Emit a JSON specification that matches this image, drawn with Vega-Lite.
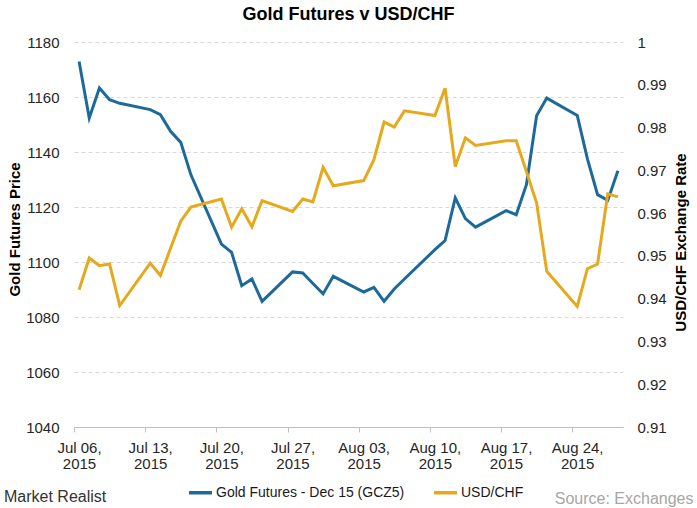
{
  "$schema": "https://vega.github.io/schema/vega-lite/v6.json",
  "width": 549,
  "height": 385,
  "autosize": {"type": "none"},
  "padding": {"left": 74, "top": 42, "right": 74, "bottom": 81},
  "background": "white",
  "config": {"font": "Liberation Sans", "view": {"stroke": null}},
  "title": {"text": "Gold Futures v USD/CHF", "font": "Liberation Sans", "fontSize": 18, "fontWeight": "bold", "color": "#000000", "anchor": "middle", "frame": "group", "offset": 11},
  "data": {"values": [
    {"date": "2015-07-06T12:00:00", "gold": 1172.9, "chf": 0.9421},
    {"date": "2015-07-07T12:00:00", "gold": 1152.4, "chf": 0.9495},
    {"date": "2015-07-08T12:00:00", "gold": 1163.3, "chf": 0.9477},
    {"date": "2015-07-09T12:00:00", "gold": 1159.0, "chf": 0.9481},
    {"date": "2015-07-10T12:00:00", "gold": 1157.7, "chf": 0.9384},
    {"date": "2015-07-13T12:00:00", "gold": 1155.4, "chf": 0.9483},
    {"date": "2015-07-14T12:00:00", "gold": 1153.6, "chf": 0.9454},
    {"date": "2015-07-15T12:00:00", "gold": 1147.5, "chf": 0.9518},
    {"date": "2015-07-16T12:00:00", "gold": 1143.5, "chf": 0.9581},
    {"date": "2015-07-17T12:00:00", "gold": 1131.7, "chf": 0.9614},
    {"date": "2015-07-20T12:00:00", "gold": 1106.5, "chf": 0.9633},
    {"date": "2015-07-21T12:00:00", "gold": 1103.5, "chf": 0.9567},
    {"date": "2015-07-22T12:00:00", "gold": 1091.4, "chf": 0.9610},
    {"date": "2015-07-23T12:00:00", "gold": 1093.8, "chf": 0.9568},
    {"date": "2015-07-24T12:00:00", "gold": 1085.7, "chf": 0.9629},
    {"date": "2015-07-27T12:00:00", "gold": 1096.4, "chf": 0.9604},
    {"date": "2015-07-28T12:00:00", "gold": 1096.0, "chf": 0.9633},
    {"date": "2015-07-29T12:00:00", "gold": 1092.2, "chf": 0.9626},
    {"date": "2015-07-30T12:00:00", "gold": 1088.4, "chf": 0.9707},
    {"date": "2015-07-31T12:00:00", "gold": 1094.8, "chf": 0.9664},
    {"date": "2015-08-03T12:00:00", "gold": 1089.1, "chf": 0.9676},
    {"date": "2015-08-04T12:00:00", "gold": 1090.8, "chf": 0.9725},
    {"date": "2015-08-05T12:00:00", "gold": 1085.7, "chf": 0.9813},
    {"date": "2015-08-06T12:00:00", "gold": 1090.2, "chf": 0.9801},
    {"date": "2015-08-07T12:00:00", "gold": 1093.8, "chf": 0.9839},
    {"date": "2015-08-10T12:00:00", "gold": 1104.5, "chf": 0.9828},
    {"date": "2015-08-11T12:00:00", "gold": 1107.8, "chf": 0.9892},
    {"date": "2015-08-12T12:00:00", "gold": 1123.3, "chf": 0.9709},
    {"date": "2015-08-13T12:00:00", "gold": 1115.8, "chf": 0.9776},
    {"date": "2015-08-14T12:00:00", "gold": 1112.7, "chf": 0.9758},
    {"date": "2015-08-17T12:00:00", "gold": 1118.7, "chf": 0.9769},
    {"date": "2015-08-18T12:00:00", "gold": 1117.2, "chf": 0.9769},
    {"date": "2015-08-19T12:00:00", "gold": 1128.1, "chf": 0.9697},
    {"date": "2015-08-20T12:00:00", "gold": 1153.2, "chf": 0.9624},
    {"date": "2015-08-21T12:00:00", "gold": 1159.6, "chf": 0.9464},
    {"date": "2015-08-24T12:00:00", "gold": 1153.3, "chf": 0.9382},
    {"date": "2015-08-25T12:00:00", "gold": 1137.5, "chf": 0.9470},
    {"date": "2015-08-26T12:00:00", "gold": 1124.5, "chf": 0.9481},
    {"date": "2015-08-27T12:00:00", "gold": 1122.4, "chf": 0.9645},
    {"date": "2015-08-28T12:00:00", "gold": 1133.2, "chf": 0.9638}
  ]},
  "encoding": {
    "x": {
      "field": "date",
      "type": "temporal",
      "scale": {"domain": [{"year": 2015, "month": 7, "date": 6}, {"year": 2015, "month": 8, "date": 29}]},
      "axis": {
        "values": [
          {"year": 2015, "month": 7, "date": 6},
          {"year": 2015, "month": 7, "date": 13},
          {"year": 2015, "month": 7, "date": 20},
          {"year": 2015, "month": 7, "date": 27},
          {"year": 2015, "month": 8, "date": 3},
          {"year": 2015, "month": 8, "date": 10},
          {"year": 2015, "month": 8, "date": 17},
          {"year": 2015, "month": 8, "date": 24}
        ],
        "labelExpr": "[timeFormat(datum.value, '%b %d,'), timeFormat(datum.value, '%Y')]",
        "labelFontSize": 15,
        "labelLineHeight": 16,
        "labelColor": "#262626",
        "labelOffset": 5,
        "labelPadding": 8,
        "labelOverlap": false,
        "labelFlush": false,
        "labelBound": false,
        "grid": false,
        "domainColor": "#bfbfbf",
        "tickColor": "#bfbfbf",
        "tickSize": 5,
        "title": "Source: Exchanges",
        "titleX": 619,
        "titleY": 76,
        "titleAlign": "right",
        "titleBaseline": "alphabetic",
        "titleFontSize": 16,
        "titleFontWeight": "normal",
        "titleColor": "#a6a6a6"
      }
    }
  },
  "layer": [
    {
      "mark": {"type": "line", "strokeWidth": 3},
      "encoding": {
        "y": {
          "field": "gold",
          "type": "quantitative",
          "scale": {"domain": [1040, 1180], "nice": false, "zero": false},
          "axis": {
            "values": [1040, 1060, 1080, 1100, 1120, 1140, 1160, 1180],
            "format": "d",
            "title": "Gold Futures Price",
            "titleFontSize": 15,
            "titleFontWeight": "bold",
            "titleColor": "#000000",
            "titleAngle": -90,
            "titleX": -60,
            "titleY": 187,
            "titleAlign": "center",
            "titleBaseline": "middle",
            "labelFontSize": 15,
            "labelColor": "#262626",
            "labelPadding": 15,
            "domain": false,
            "ticks": false,
            "grid": true,
            "gridColor": "#d9d9d9",
            "gridDash": [4, 3],
            "gridWidth": 1
          }
        },
        "color": {
          "datum": "Gold Futures - Dec 15 (GCZ5)",
          "type": "nominal",
          "scale": {"domain": ["Gold Futures - Dec 15 (GCZ5)", "USD/CHF"], "range": ["#1d6a9a", "#e6a91e"]},
          "legend": {
            "orient": "none",
            "legendX": -70,
            "legendY": 437,
            "direction": "horizontal",
            "title": "Market Realist",
            "titleOrient": "left",
            "titleAnchor": "middle",
            "titleBaseline": "top",
            "titleFontSize": 16,
            "titleFontWeight": "normal",
            "titleColor": "#333333",
            "titlePadding": 80,
            "labelFontSize": 14,
            "labelColor": "#1a1a1a",
            "labelLimit": 300,
            "labelOffset": 2,
            "symbolType": "stroke",
            "symbolStrokeWidth": 3.5,
            "symbolSize": 530,
            "columnPadding": 21,
            "padding": 0
          }
        }
      }
    },
    {
      "mark": {"type": "line", "strokeWidth": 3},
      "encoding": {
        "y": {
          "field": "chf",
          "type": "quantitative",
          "scale": {"domain": [0.91, 1], "nice": false, "zero": false},
          "axis": {
            "orient": "right",
            "values": [0.91, 0.92, 0.93, 0.94, 0.95, 0.96, 0.97, 0.98, 0.99, 1],
            "format": ".2~f",
            "title": "USD/CHF Exchange Rate",
            "titleAngle": -90,
            "titleX": 57,
            "titleY": 200,
            "titleAlign": "center",
            "titleBaseline": "middle",
            "titleFontSize": 15,
            "titleFontWeight": "bold",
            "titleColor": "#000000",
            "labelFontSize": 15,
            "labelColor": "#262626",
            "labelPadding": 14,
            "domain": false,
            "ticks": false,
            "grid": false
          }
        },
        "color": {"datum": "USD/CHF", "type": "nominal"}
      }
    }
  ],
  "resolve": {"scale": {"y": "independent"}}
}
